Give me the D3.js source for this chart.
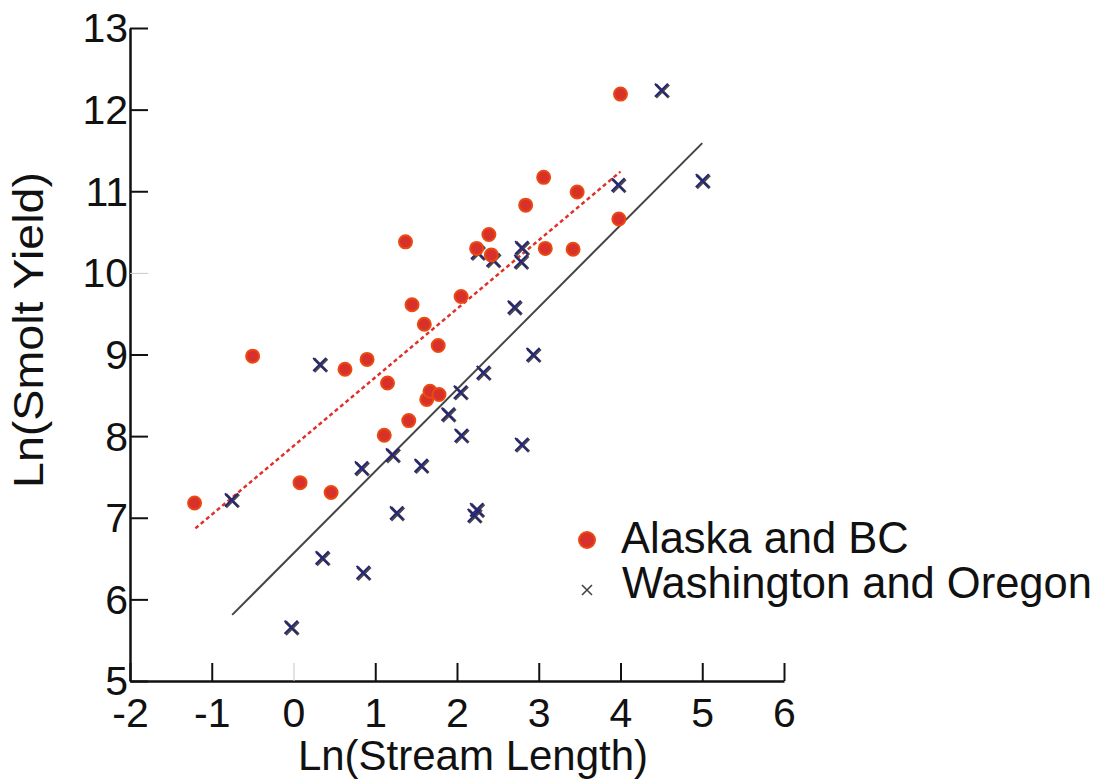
<!DOCTYPE html>
<html>
<head>
<meta charset="utf-8">
<script src="https://cdn.jsdelivr.net/npm/d3@7"></script>
<style>
  html, body { margin: 0; padding: 0; background: #fff; }
  svg { display: block; }
  text { font-family: "Liberation Sans", Arial, sans-serif; fill: #111; }
</style>
</head>
<body>
<svg id="chart" width="1093" height="781"></svg>
<script>
// ---- data ----
const xTicks = [-2, -1, 0, 1, 2, 3, 4, 5, 6];
const yTicks = [5, 6, 7, 8, 9, 10, 11, 12, 13];

const seriesNames = ["Alaska and BC", "Washington and Oregon"];

const akX = [-1.21, -0.50, 0.08, 0.46, 0.63, 0.90, 1.11, 1.15, 1.41, 1.37, 1.45, 1.60, 1.63, 1.67, 1.78, 1.77, 2.05, 2.24, 2.39, 2.42, 2.84, 3.06, 3.08, 3.42, 3.47, 4.00, 3.98];
const akY = [7.18, 8.98, 7.43, 7.31, 8.82, 8.94, 8.01, 8.65, 8.19, 10.38, 9.61, 9.37, 8.45, 8.55, 8.51, 9.11, 9.71, 10.30, 10.47, 10.22, 10.83, 11.17, 10.30, 10.29, 10.99, 12.19, 10.66];

const waX = [-0.76, -0.03, 0.32, 0.35, 0.83, 0.85, 1.21, 1.26, 1.56, 1.89, 2.04, 2.05, 2.21, 2.24, 2.32, 2.25, 2.44, 2.70, 2.78, 2.79, 2.79, 2.93, 3.97, 4.50, 5.00];
const waY = [7.22, 5.66, 8.88, 6.51, 7.61, 6.33, 7.77, 7.06, 7.64, 8.27, 8.54, 8.01, 7.03, 7.10, 8.78, 10.25, 10.16, 9.58, 10.14, 10.31, 7.90, 9.00, 11.08, 12.24, 11.13];

// fitted lines (endpoints)
const akFitX = [-1.20, 4.00];
const akFitY = [6.87, 11.24];
const waFitX = [-0.75, 5.00];
const waFitY = [5.81, 11.59];

// ---- drawing ----
const svg = d3.select("#chart");
const x = d3.scaleLinear().domain([-2, 6]).range([130, 784]);
const y = d3.scaleLinear().domain([5, 13]).range([681, 28]);

const FS = 41;

// Axes (inward ticks)
const xAxisG = svg.append("g").attr("transform", `translate(0,${y(5)})`)
  .call(d3.axisBottom(x).tickValues(xTicks).tickSize(-18).tickSizeOuter(0).tickFormat(d => String(d)));
const yAxisG = svg.append("g").attr("transform", `translate(${x(-2)},0)`)
  .call(d3.axisLeft(y).tickValues(yTicks).tickSize(-18).tickSizeOuter(0).tickFormat(d => String(d)));

[xAxisG, yAxisG].forEach(g => {
  g.select(".domain").attr("stroke", "#111").attr("stroke-width", 2.5);
  g.selectAll(".tick line").attr("stroke", "#111").attr("stroke-width", 2);
  g.selectAll(".tick text")
    .style("font-family", '"Liberation Sans", Arial, sans-serif')
    .style("font-size", FS + "px").attr("fill", "#111");
});
// faint ticks as in reference
xAxisG.selectAll(".tick").filter(d => d === 0).select("line").attr("stroke", "#c8c8c8").attr("stroke-width", 1);
yAxisG.selectAll(".tick").filter(d => d === 10).select("line").attr("stroke", "#c8c8c8").attr("stroke-width", 1);

xAxisG.selectAll(".tick text").attr("y", 17).attr("dy", "0.71em");
yAxisG.selectAll(".tick text").attr("x", -2).attr("dy", "0.34em");

// Axis titles
svg.append("text")
  .attr("x", 473).attr("y", 770)
  .attr("text-anchor", "middle")
  .style("font-size", "42px")
  .text("Ln(Stream Length)");

svg.append("text")
  .attr("transform", "translate(43,330) rotate(-90)")
  .attr("text-anchor", "middle")
  .attr("textLength", 316).attr("lengthAdjust", "spacingAndGlyphs")
  .style("font-size", "42px")
  .text("Ln(Smolt Yield)");

// Fit lines
const line = d3.line().x(d => x(d[0])).y(d => y(d[1]));
svg.append("path")
  .datum(waFitX.map((v, i) => [v, waFitY[i]]))
  .attr("d", line).attr("fill", "none")
  .attr("stroke", "#444").attr("stroke-width", 2);

svg.append("path")
  .datum(akFitX.map((v, i) => [v, akFitY[i]]))
  .attr("d", line).attr("fill", "none")
  .attr("stroke", "#e0302a").attr("stroke-width", 2.5)
  .attr("stroke-dasharray", "4,3");

// Washington crosses
function crossPath(cx, cy, h) {
  return `M${cx - h},${cy - h}L${cx + h},${cy + h}M${cx - h},${cy + h}L${cx + h},${cy - h}`;
}
const wa = waX.map((v, i) => ({ x: v, y: waY[i] }));
svg.append("g").selectAll("path.cg").data(wa).join("path")
  .attr("class", "cg")
  .attr("d", d => crossPath(x(d.x) + 1, y(d.y) + 1, 6.5))
  .attr("stroke", "#4a4a4a").attr("stroke-width", 3).attr("fill", "none");
svg.append("g").selectAll("path.cn").data(wa).join("path")
  .attr("class", "cn")
  .attr("d", d => crossPath(x(d.x), y(d.y), 6.5))
  .attr("stroke", "#25247a").attr("stroke-width", 1.8).attr("fill", "none");

// Alaska circles
const ak = akX.map((v, i) => ({ x: v, y: akY[i] }));
svg.append("g").selectAll("circle").data(ak).join("circle")
  .attr("cx", d => x(d.x)).attr("cy", d => y(d.y)).attr("r", 6.5)
  .attr("fill", "#d8302a").attr("stroke", "#ea4a12").attr("stroke-width", 2);

// Legend
const lg = svg.append("g");
lg.append("circle").attr("cx", 587).attr("cy", 540).attr("r", 8)
  .attr("fill", "#d8302a").attr("stroke", "#ea4a12").attr("stroke-width", 2);
lg.append("text").attr("x", 621).attr("y", 553).style("font-size", "43.5px").text(seriesNames[0]);
lg.append("path").attr("d", crossPath(587, 590, 5))
  .attr("stroke", "#444").attr("stroke-width", 1.6).attr("fill", "none");
lg.append("text").attr("x", 622).attr("y", 598).style("font-size", "43.5px").text(seriesNames[1]);
</script>
</body>
</html>
